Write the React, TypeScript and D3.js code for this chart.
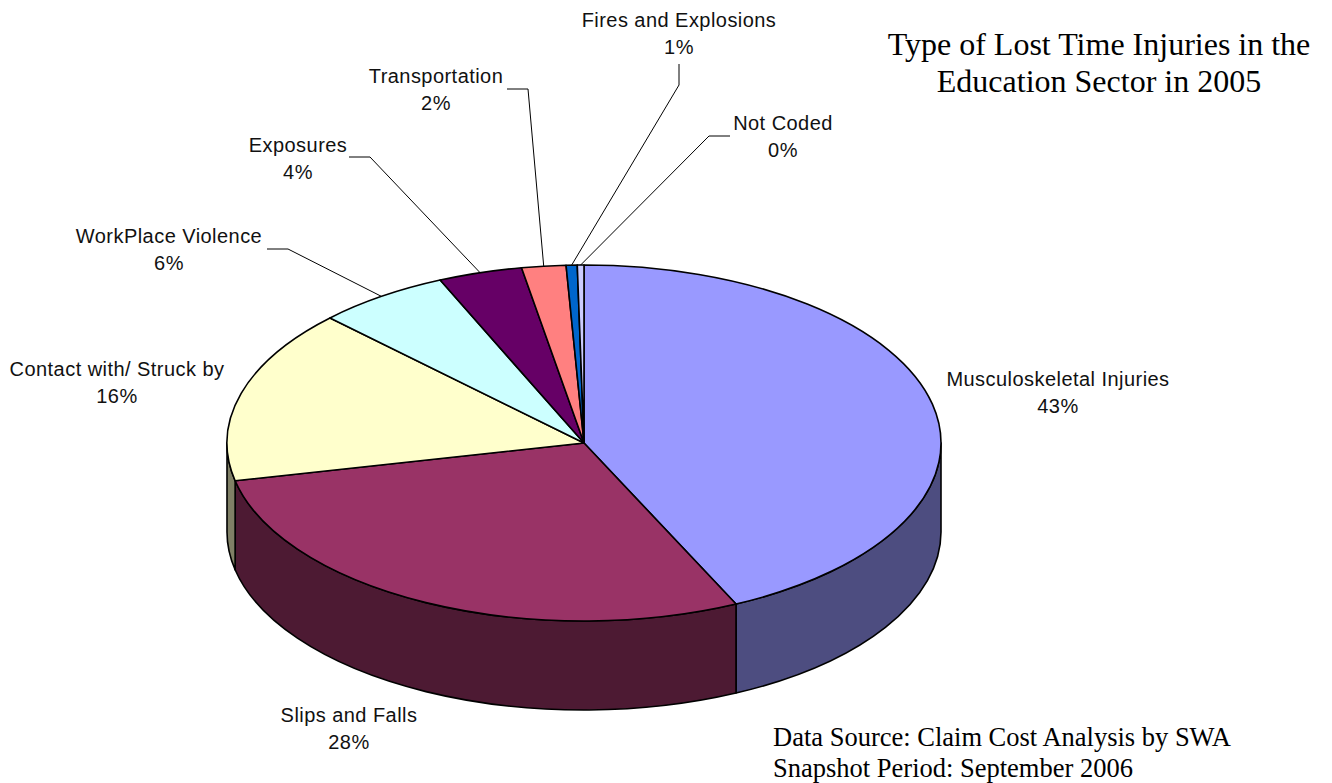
import React from "react";
import * as d3 from "d3";

const categories = [
  "Musculoskeletal Injuries",
  "Slips and Falls",
  "Contact with/ Struck by",
  "WorkPlace Violence",
  "Exposures",
  "Transportation",
  "Fires and Explosions",
  "Not Coded",
];
const shares = [43.0, 28.6, 15.8, 6.0, 3.8, 2.0, 0.5, 0.3];
const percentLabels = ["43%", "28%", "16%", "6%", "4%", "2%", "1%", "0%"];

const topColors = ["#9999ff", "#993366", "#ffffcc", "#ccffff", "#660066", "#ff8080", "#0066cc", "#ccccff"];
const sideColors = ["#4d4d80", "#4d1a33", "#808066", "#668080", "#330033", "#804040", "#003366", "#666680"];

// label centres and leader elbows, same order as categories
const labelPos: [number, number][] = [
  [1058, 386],
  [349, 722],
  [117, 376],
  [169, 243],
  [298, 152],
  [436, 83],
  [679, 27],
  [783, 130],
];
const leaders: ([number, number][] | null)[] = [
  null,
  null,
  null,
  [[267, 249], [288, 249]],
  [[349, 157], [370, 157]],
  [[507, 89], [528, 89]],
  [[679, 64], [679, 85]],
  [[730, 136], [709, 136]],
];

const W = 1332;
const H = 783;
const cx = 584;
const cy = 443;
const rx = 357;
const ry = 178;
const depth = 89;

const pie = d3.pie<number>().sort(null).value((d) => d);
const slices = pie(shares);
const arc = d3.arc<d3.PieArcDatum<number>>().innerRadius(0).outerRadius(rx);

const px = (t: number) => cx + rx * Math.sin(t);
const py = (t: number) => cy - ry * Math.cos(t);

// wall under the front rim, between two pie angles
function wallPath(a0: number, a1: number) {
  const from = Math.max(a0, Math.PI / 2);
  const to = Math.min(a1, (3 * Math.PI) / 2);
  if (from >= to) return null;
  return (
    `M${px(from)},${py(from)}` +
    `A${rx},${ry} 0 0 1 ${px(to)},${py(to)}` +
    `L${px(to)},${py(to) + depth}` +
    `A${rx},${ry} 0 0 0 ${px(from)},${py(from) + depth}Z`
  );
}

export default function App() {
  const line = d3.line();
  return (
    <svg
      width={W}
      height={H}
      viewBox={`0 0 ${W} ${H}`}
      style={{ position: "absolute", left: 0, top: 0, background: "#fff" }}
    >
      <g stroke="#000" strokeWidth={1.6} strokeLinejoin="round">
        {slices.map((s, i) => {
          const d = wallPath(s.startAngle, s.endAngle);
          return d ? <path key={i} d={d} fill={sideColors[i]} /> : null;
        })}
      </g>
      <g transform={`translate(${cx},${cy}) scale(1,${ry / rx})`}>
        {slices.map((s, i) => (
          <path
            key={i}
            d={arc(s) ?? ""}
            fill={topColors[i]}
            stroke="#000"
            strokeWidth={1.6}
            strokeLinejoin="round"
            vectorEffect="non-scaling-stroke"
          />
        ))}
      </g>
      <g fill="none" stroke="#000" strokeWidth={1}>
        {slices.map((s, i) => {
          const pts = leaders[i];
          if (!pts) return null;
          const mid = (s.startAngle + s.endAngle) / 2;
          return <path key={i} d={line([...pts, [px(mid), py(mid)]]) ?? ""} />;
        })}
      </g>
      <g fontFamily="Liberation Sans" fontSize={20} letterSpacing={0.45} textAnchor="middle" fill="#111">
        {categories.map((c, i) => (
          <text key={c} x={labelPos[i][0]} y={labelPos[i][1]}>
            <tspan x={labelPos[i][0]}>{c}</tspan>
            <tspan x={labelPos[i][0]} dy={27}>{percentLabels[i]}</tspan>
          </text>
        ))}
      </g>
      <g fontFamily="Liberation Serif" fontSize={32} textAnchor="middle" fill="#000">
        <text x={1099} y={55}>Type of Lost Time Injuries in the</text>
        <text x={1099} y={92}>Education Sector in 2005</text>
      </g>
      <g fontFamily="Liberation Serif" fontSize={26.5} fill="#000">
        <text x={773} y={746}>Data Source: Claim Cost Analysis by SWA</text>
        <text x={773} y={777}>Snapshot Period: September 2006</text>
      </g>
    </svg>
  );
}
